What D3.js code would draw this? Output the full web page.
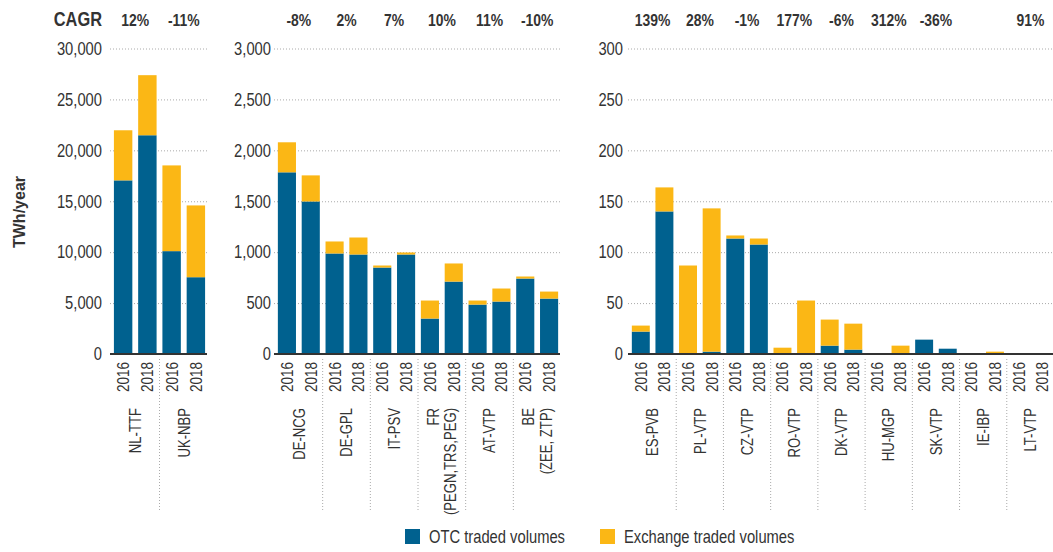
<!DOCTYPE html>
<html>
<head>
<meta charset="utf-8">
<script src="https://cdn.jsdelivr.net/npm/d3@7"></script>
<style>
  body { margin: 0; background: #fff; }
  text { font-family: "Liberation Sans", Arial, sans-serif; fill: #333; }
</style>
</head>
<body>
<script>
const years = ["2016", "2018"];

// big hubs (TWh/year)
const hubsA = ["NL-TTF", "UK-NBP"];
const cagrA = ["12%", "-11%"];
const otcA = [17050, 21480, 10100, 7540];
const exchA = [4920, 5900, 8420, 7050];

// mid-size hubs
const hubsB = ["DE-NCG", "DE-GPL", "IT-PSV", "FR\n(PEGN,TRS,PEG)", "AT-VTP", "BE\n(ZEE, ZTP)"];
const cagrB = ["-8%", "2%", "7%", "10%", "11%", "-10%"];
const otcB = [1784, 1498, 987, 977, 849, 977, 348, 711, 485, 515, 741, 544];
const exchB = [295, 256, 118, 167, 20, 20, 177, 178, 40, 128, 20, 69];

// small hubs
const hubsC = ["ES-PVB", "PL-VTP", "CZ-VTP", "RO-VTP", "DK-VTP", "HU-MGP", "SK-VTP", "IE-IBP", "LT-VTP"];
const cagrC = ["139%", "28%", "-1%", "177%", "-6%", "312%", "-36%", "", "91%"];
const otcC = [22, 140, 0, 2.3, 113.4, 107.5, 0, 0, 8.2, 4.3, 0, 0, 14.1, 5.2, 0, 0, 0, 0];
const exchC = [5.9, 23.6, 86.9, 140.7, 3, 5.9, 6.2, 52.5, 25.6, 25.5, 0.6, 8.2, 0, 0, 0, 2.3, 0, 0.5];

const seriesNames = ["OTC traded volumes", "Exchange traded volumes"];

const width = 1053;
const height = 552;
const otcColor = "#00618f";
const exchColor = "#fbb715";
const yBase = 354;
const yTop = 48.5;
const narrow = 0.82; // squeeze text horizontally to get a narrow face

const svg = d3.select("body").append("svg")
  .attr("width", width)
  .attr("height", height);

const place = (x, y, rot) =>
  `translate(${x}, ${y})` + (rot ? ` rotate(${rot})` : "") + ` scale(${narrow}, 1)`;

const panels = [
  { hubs: hubsA, cagr: cagrA, otc: otcA, exch: exchA, max: 30000, step: 5000, x0: 110, x1: 207, pad: 8 },
  { hubs: hubsB, cagr: cagrB, otc: otcB, exch: exchB, max: 3000, step: 500, x0: 274, x1: 560, pad: 3 },
  { hubs: hubsC, cagr: cagrC, otc: otcC, exch: exchC, max: 300, step: 50, x0: 628, x1: 1053, pad: 5 }
];

panels.forEach(p => {
  const rows = p.hubs.flatMap((h, i) => years.map((yr, j) => ({
    key: h + "|" + yr, hub: h, year: yr, otc: p.otc[i * 2 + j], exch: p.exch[i * 2 + j]
  })));

  const x = d3.scaleBand()
    .domain(rows.map(d => d.key))
    .range([p.x0 + 1, p.x1 + 1])
    .paddingInner(0.24)
    .paddingOuter(0.12);
  const y = d3.scaleLinear().domain([0, p.max]).range([yBase, yTop]);
  const bw = x.bandwidth();

  const g = svg.append("g");

  // y axis, ticks stretched into dotted gridlines
  const yAxis = d3.axisLeft(y)
    .tickValues(d3.range(0, p.max + 1, p.step))
    .tickSize(-(p.x1 - p.x0))
    .tickPadding(p.pad)
    .tickFormat(d3.format(","));

  const axisG = g.append("g")
    .attr("transform", `translate(${p.x0}, 0)`)
    .call(yAxis);
  axisG.select(".domain").remove();
  axisG.selectAll(".tick line")
    .attr("stroke", "#aaa")
    .attr("stroke-dasharray", "1,2")
    .attr("opacity", d => d === 0 ? 0 : 1);
  axisG.selectAll(".tick text")
    .attr("x", 0)
    .attr("transform", place(-p.pad, 0))
    .style("font-size", "18px")
    .attr("fill", "#333");

  // stacked bars
  const bars = g.selectAll("g.bar").data(rows).enter().append("g").attr("class", "bar");
  bars.append("rect")
    .attr("x", d => x(d.key))
    .attr("width", bw)
    .attr("y", d => y(d.otc))
    .attr("height", d => y(0) - y(d.otc))
    .attr("fill", otcColor);
  bars.append("rect")
    .attr("x", d => x(d.key))
    .attr("width", bw)
    .attr("y", d => y(d.otc + d.exch))
    .attr("height", d => y(d.otc) - y(d.otc + d.exch))
    .attr("fill", exchColor);

  // baseline
  g.append("line")
    .attr("x1", p.x0).attr("x2", p.x1)
    .attr("y1", yBase).attr("y2", yBase)
    .attr("stroke", "#333")
    .attr("stroke-width", 2);

  // year labels
  g.selectAll("text.year").data(rows).enter().append("text")
    .attr("class", "year")
    .attr("transform", d => place(x(d.key) + bw / 2, 362, -90))
    .attr("text-anchor", "end")
    .attr("dy", "0.36em")
    .style("font-size", "16.5px")
    .text(d => d.year);

  const groupCenter = h => (x(h + "|2016") + x(h + "|2018") + bw) / 2;

  // hub labels
  p.hubs.forEach(h => {
    const lines = h.split("\n");
    const t = g.append("text")
      .attr("transform", place(groupCenter(h), 408, -90))
      .attr("text-anchor", "end")
      .style("font-size", "16px");
    lines.forEach((ln, k) => {
      t.append("tspan")
        .attr("x", 0)
        .attr("dy", k === 0 ? (lines.length > 1 ? "-0.2em" : "0.36em") : "1.1em")
        .text(ln);
    });
  });

  // group separators
  p.hubs.slice(1).forEach(h => {
    const sx = x(h + "|2016") - (x.step() - bw) / 2;
    g.append("line")
      .attr("x1", sx).attr("x2", sx)
      .attr("y1", 359).attr("y2", 512)
      .attr("stroke", "#aaa")
      .attr("stroke-dasharray", "1,2");
  });

  // CAGR values
  p.hubs.forEach((h, i) => {
    g.append("text")
      .attr("transform", place(groupCenter(h), 26))
      .attr("text-anchor", "middle")
      .style("font-size", "17px")
      .style("font-weight", "bold")
      .attr("fill", "#222")
      .text(p.cagr[i]);
  });
});

svg.append("text")
  .attr("transform", place(102, 26))
  .attr("text-anchor", "end")
  .style("font-size", "20px")
  .style("font-weight", "bold")
  .attr("fill", "#222")
  .text("CAGR");

svg.append("text")
  .attr("transform", "translate(25, 212) rotate(-90)")
  .attr("text-anchor", "middle")
  .style("font-size", "16px")
  .style("font-weight", "bold")
  .attr("fill", "#222")
  .text("TWh/year");

// legend
const legend = svg.append("g").attr("transform", "translate(405, 529)");
const legendX = [0, 195];
[otcColor, exchColor].forEach((c, i) => {
  legend.append("rect")
    .attr("x", legendX[i]).attr("y", 0)
    .attr("width", 15).attr("height", 15)
    .attr("fill", c);
  legend.append("text")
    .attr("transform", place(legendX[i] + 24, 8))
    .attr("dy", "0.36em")
    .style("font-size", "18px")
    .text(seriesNames[i]);
});
</script>
</body>
</html>
